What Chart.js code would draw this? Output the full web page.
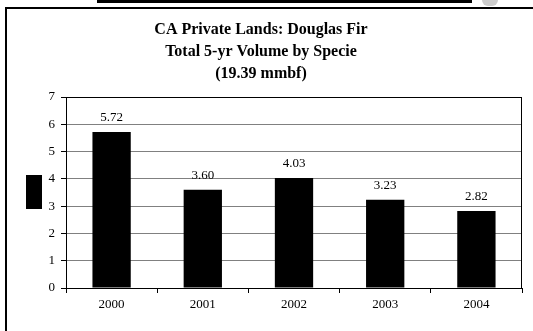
<!DOCTYPE html>
<html>
<head>
<meta charset="utf-8">
<script src="https://cdn.jsdelivr.net/npm/chart.js@4"></script>
<style>
  html, body { margin: 0; padding: 0; background: #fff; overflow: hidden; }
  #wrap { position: relative; width: 533px; height: 331px; }
  #frame { position: absolute; left: 5px; top: 7px; width: 540px; height: 340px; border: 2px solid #000; }
  #topbar { position: absolute; left: 97px; top: 0; width: 375px; height: 3px; background: #000; }
  #icon { position: absolute; left: 482px; top: 0; width: 16px; height: 6px; background: #ccc; border-radius: 0 0 6px 6px; }
  canvas { position: absolute; left: 0; top: 0; }
</style>
</head>
<body>
<div id="wrap">
  <div id="topbar"></div>
  <div id="icon"></div>
  <div id="frame"></div>
  <canvas id="volume" width="533" height="331"></canvas>
</div>
<script>
var years = ['2000', '2001', '2002', '2003', '2004'];
var volumes = [5.72, 3.60, 4.03, 3.23, 2.82];
var titleLines = ['CA Private Lands: Douglas Fir', 'Total 5-yr Volume by Specie', '(19.39 mmbf)'];

var serif = '"Liberation Serif", "Times New Roman", serif';

// value labels over the bars, plot border and the blacked-out axis title
var extras = {
  id: 'extras',
  afterDatasetsDraw: function(chart) {
    var ctx = chart.ctx;
    var meta = chart.getDatasetMeta(0);
    ctx.save();
    ctx.fillStyle = '#000';
    ctx.font = '13px ' + serif;
    ctx.textAlign = 'center';
    ctx.textBaseline = 'bottom';
    meta.data.forEach(function(bar, i) {
      ctx.fillText(volumes[i].toFixed(2), bar.x, bar.y - 8);
    });
    ctx.restore();
  },
  afterDraw: function(chart) {
    var a = chart.chartArea;
    var ctx = chart.ctx;
    ctx.save();
    ctx.strokeStyle = '#000';
    ctx.lineWidth = 1;
    ctx.strokeRect(a.left + 0.5, a.top + 0.5, a.right - a.left - 1, a.bottom - a.top);
    ctx.fillStyle = '#000';
    ctx.fillRect(26, 175, 16, 34);
    ctx.restore();
  }
};

var ctx = document.getElementById('volume');
var chart = new Chart(ctx, {
  type: 'bar',
  data: {
    labels: years,
    datasets: [{
      data: volumes,
      backgroundColor: '#000',
      borderWidth: 0,
      categoryPercentage: 1,
      barPercentage: 0.42
    }]
  },
  options: {
    responsive: false,
    animation: false,
    layout: { padding: { left: 0, right: 11, top: 0, bottom: 0 } },
    plugins: {
      legend: { display: false },
      tooltip: { enabled: false },
      title: {
        display: true,
        text: titleLines,
        color: '#000',
        font: { family: serif, size: 16, weight: 'bold', lineHeight: 1.375 },
        padding: { top: 19, bottom: 12 }
      }
    },
    scales: {
      x: {
        offset: true,
        grid: {
          offset: true,
          drawOnChartArea: false,
          color: '#000',
          tickLength: 5
        },
        border: { color: '#000', width: 1 },
        ticks: { color: '#000', font: { family: serif, size: 13 }, padding: 4 },
        afterFit: function(s) { s.height = 43; }
      },
      y: {
        min: 0,
        max: 7,
        ticks: { stepSize: 1, color: '#000', font: { family: serif, size: 13 }, padding: 6 },
        grid: {
          color: function(c) { return c.tick && (c.tick.value === 7 || c.tick.value === 0) ? '#000' : '#808080'; },
          tickColor: '#000',
          tickLength: 5,
          lineWidth: 1
        },
        border: { color: '#000', width: 1 },
        afterFit: function(s) { s.width = 66; }
      }
    }
  },
  plugins: [extras]
});
</script>
</body>
</html>
